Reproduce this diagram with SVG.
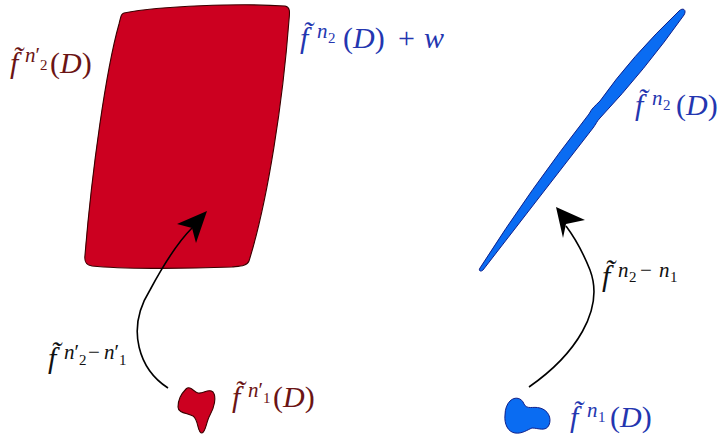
<svg xmlns="http://www.w3.org/2000/svg" width="725" height="438" viewBox="0 0 725 438">
<style>
.t{font-family:"Liberation Serif","DejaVu Serif",serif;font-size:30px}
.i{font-style:italic}
.sup{font-size:21px}
.sub{font-size:15px}
.dr{fill:#6b1414}
.bl{fill:#2436b0}
.bk{fill:#111}
.red{fill:#cc0020;stroke:#3a0000;stroke-width:1.1}
.blue{fill:#0a6cf2;stroke:#10208a;stroke-width:1}
.conn{fill:none;stroke:#000;stroke-width:1.6}
.head{fill:#000;stroke:none}
</style>
<g id="red-big">
<path class="red" d="M124,13 C160,6 240,3 285,6 C290,7 290,11 289,20 C283,100 268,200 249,261 C247,266 240,266 232,267 C180,269 120,269 92,266 C86,265 84,262 85,255 C92,170 106,70 119,24 C121,16 121,14 124,13 Z"/>
</g>
<g id="red-small">
<path class="red" d="M186,389 C190,385 194,392 198,393 C204,394 208,388 213,392 C217,397 214,408 210,415 C206,422 206,432 202,433 C197,433 199,420 193,416 C187,413 178,413 178,407 C178,400 182,393 186,389 Z"/>
</g>
<g id="blue-thin">
<path class="blue" d="M480,268 Q531,188 589,114 C592,108 595,106 600,101 Q631,57 679,11 C683,7 687,10 684,15 Q645,70 600,118 C597,121 596,124 593,128 Q541,195 483,270 C481,272 478,271 480,268 Z"/>
</g>
<g id="blue-small">
<path class="blue" d="M510,401 C515,396 522,398 524,404 C527,410 533,406 540,408 C548,410 552,418 549,425 C546,432 538,428 532,428 C527,430 522,434 515,433 C508,432 504,424 505,415 C505,409 507,404 510,401 Z"/>
</g>
<g id="connectors">
<path class="conn" d="M168,388 C140,370 125,330 150,290 C165,262 178,242 192,228"/>
<path class="head" d="M207,211 L177,224 L192,228 L196,243 Z"/>
<path class="conn" d="M529,387 C575,355 605,310 590,270 C582,250 575,238 566,226"/>
<path class="head" d="M556,207 L585,220 L566,224 L563,238 Z"/>
</g>
<g id="labels">
<text class="t dr" y="73"><tspan x="10" class="i">f̃</tspan><tspan x="25" y="62" class="sup"><tspan class="i">n</tspan>′</tspan><tspan x="40" y="70" class="sub">2</tspan><tspan x="50" y="73">(<tspan class="i">D</tspan>)</tspan></text>
<text class="t bl" y="48"><tspan x="300" class="i">f̃</tspan><tspan x="317" y="38" class="sup i">n</tspan><tspan x="328" y="43" class="sub">2</tspan><tspan x="343" y="48">(<tspan class="i">D</tspan>)</tspan><tspan x="398">+</tspan><tspan x="424" class="i">w</tspan></text>
<text class="t bl" y="115"><tspan x="635" class="i">f̃</tspan><tspan x="652" y="105" class="sup i">n</tspan><tspan x="663" y="110" class="sub">2</tspan><tspan x="676" y="115">(<tspan class="i">D</tspan>)</tspan></text>
<text class="t bk" y="286"><tspan x="602" class="i">f̃</tspan><tspan x="618" y="277" class="sup i">n</tspan><tspan x="629" y="282" class="sub">2</tspan><tspan x="640" y="277" class="sup">−</tspan><tspan x="659" class="sup i">n</tspan><tspan x="670" y="282" class="sub">1</tspan></text>
<text class="t bk" y="368"><tspan x="48" class="i">f̃</tspan><tspan x="64" y="359" class="sup"><tspan class="i">n</tspan>′</tspan><tspan x="79" y="365" class="sub">2</tspan><tspan x="88" y="359" class="sup">−</tspan><tspan x="104" class="sup"><tspan class="i">n</tspan>′</tspan><tspan x="119" y="365" class="sub">1</tspan></text>
<text class="t dr" y="407"><tspan x="232" class="i">f̃</tspan><tspan x="248" y="397" class="sup"><tspan class="i">n</tspan>′</tspan><tspan x="263" y="403" class="sub">1</tspan><tspan x="273" y="407">(<tspan class="i">D</tspan>)</tspan></text>
<text class="t bl" y="427"><tspan x="570" class="i">f̃</tspan><tspan x="587" y="417" class="sup i">n</tspan><tspan x="598" y="422" class="sub">1</tspan><tspan x="610" y="427">(<tspan class="i">D</tspan>)</tspan></text>
</g>
</svg>
